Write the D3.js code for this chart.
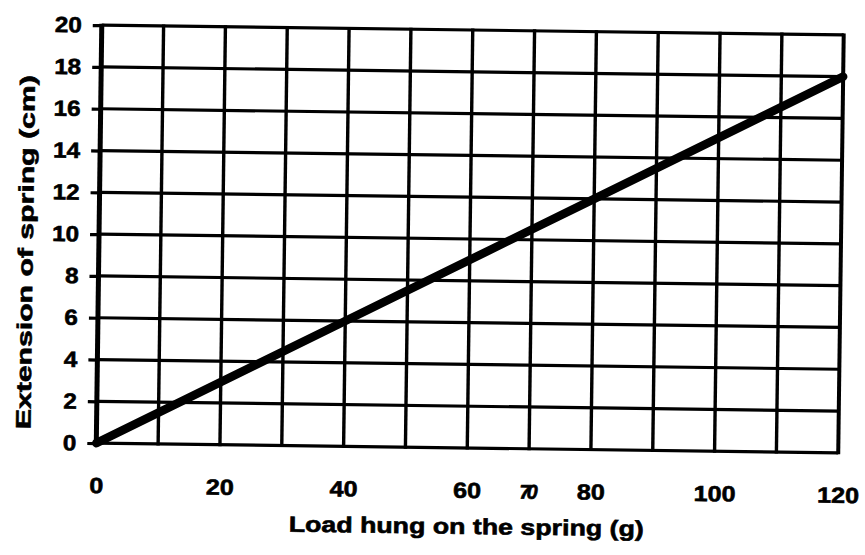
<!DOCTYPE html>
<html>
<head>
<meta charset="utf-8">
<script src="https://cdn.jsdelivr.net/npm/d3@7/dist/d3.min.js"></script>
<style>
  html, body { margin: 0; padding: 0; background: #fff; }
  svg { display: block; }
  text { font-family: "Liberation Sans", Arial, sans-serif; font-weight: bold; fill: #000; stroke: #000; stroke-width: 0.6px; }
</style>
</head>
<body>
<svg id="chart" width="865" height="555"></svg>
<script>
// Readings of the spring's extension against the load hung on it
const loads = [0, 40, 80, 120];          // g
const extensions = [0, 6, 12, 18];       // cm

// Axis labels and grid spacing
const xTickValues = [0, 20, 40, 60, 80, 100, 120];
const yTickValues = [0, 2, 4, 6, 8, 10, 12, 14, 16, 18, 20];
const xGridValues = [0, 10, 20, 30, 40, 50, 60, 70, 80, 90, 100, 110, 120];
const xTitle = "Load hung on the spring (g)";
const yTitle = "Extension of spring (cm)";
const note = "70";

const svg = d3.select("#chart");
const plot = { left: 99, right: 841, top: 30, bottom: 448 };

const x = d3.scaleLinear().domain([0, 120]).range([plot.left, plot.right]);
const y = d3.scaleLinear().domain([0, 20]).range([plot.bottom, plot.top]);

// the sheet sits very slightly askew
const g = svg.append("g").attr("transform", "rotate(0.75, 470, 239)");

// horizontal grid lines
g.append("g")
  .selectAll("line")
  .data(yTickValues)
  .join("line")
  .attr("x1", plot.left).attr("x2", plot.right)
  .attr("y1", d => y(d)).attr("y2", d => y(d))
  .attr("stroke", "#000")
  .attr("stroke-width", 3.2);

// vertical grid lines
g.append("g")
  .selectAll("line")
  .data(xGridValues)
  .join("line")
  .attr("x1", d => x(d)).attr("x2", d => x(d))
  .attr("y1", plot.top - 1.5).attr("y2", plot.bottom + 1.5)
  .attr("stroke", "#000")
  .attr("stroke-width", d => d === 0 ? 5 : (d === 120 ? 4 : 3.4));

// y axis: short ticks outside the frame and the numbers
const yAxis = g.append("g")
  .attr("transform", `translate(${plot.left},0)`)
  .call(d3.axisLeft(y).tickValues(yTickValues).tickSize(9).tickPadding(11).tickFormat(d3.format("d")));
yAxis.select(".domain").remove();
yAxis.selectAll(".tick line").attr("stroke", "#000").attr("stroke-width", 3.2);
yAxis.selectAll(".tick text")
  .attr("font-size", 22)
  .attr("font-family", null)
  .attr("textLength", d => String(d).length * 13.5)
  .attr("lengthAdjust", "spacingAndGlyphs");

// x axis numbers
const xAxis = g.append("g")
  .attr("transform", `translate(0,${plot.bottom})`)
  .call(d3.axisBottom(x).tickValues(xTickValues).tickSize(0).tickFormat(d3.format("d")));
xAxis.select(".domain").remove();
xAxis.selectAll(".tick text")
  .attr("font-size", 22)
  .attr("font-family", null)
  .attr("y", 50)
  .attr("dy", 0)
  .attr("textLength", d => String(d).length * 14)
  .attr("lengthAdjust", "spacingAndGlyphs");

// the fitted straight line
const line = d3.line().x((d, i) => x(loads[i])).y(d => y(d));
g.append("path")
  .datum(extensions)
  .attr("d", line)
  .attr("fill", "none")
  .attr("stroke", "#000")
  .attr("stroke-width", 8.5)
  .attr("stroke-linecap", "round");

// axis titles
g.append("text")
  .attr("x", 470).attr("y", 534)
  .attr("text-anchor", "middle")
  .attr("font-size", 22)
  .attr("textLength", 355)
  .attr("lengthAdjust", "spacingAndGlyphs")
  .text(xTitle);

g.append("text")
  .attr("transform", "translate(33,258) rotate(-90)")
  .attr("text-anchor", "middle")
  .attr("font-size", 21)
  .attr("textLength", 354)
  .attr("lengthAdjust", "spacingAndGlyphs")
  .text(yTitle);

// pencilled note between 60 and 80
g.append("text")
  .attr("x", x(70) - 2).attr("y", 498)
  .attr("text-anchor", "middle")
  .attr("font-size", 20)
  .attr("font-weight", "normal")
  .attr("font-style", "italic")
  .attr("font-family", "DejaVu Sans, sans-serif")
  .attr("letter-spacing", -4)
  .attr("stroke-width", 1)
  .text(note);
</script>
</body>
</html>
